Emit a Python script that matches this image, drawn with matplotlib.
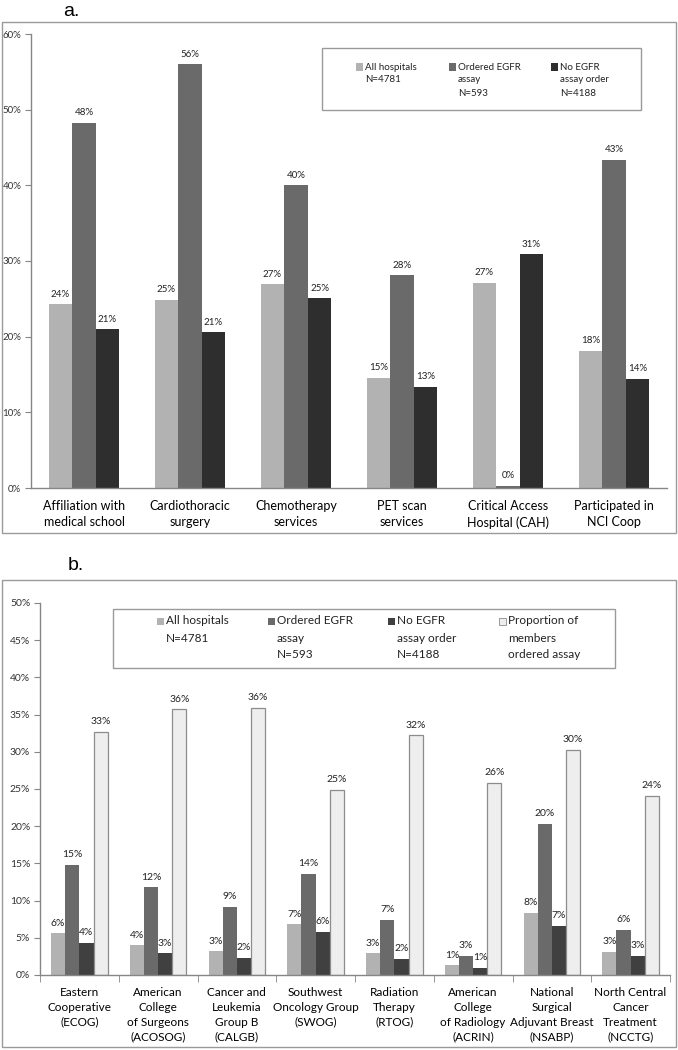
import matplotlib.pyplot as plt
import numpy as np
from matplotlib.patches import Rectangle
from matplotlib.ticker import FixedLocator, PercentFormatter

# panel a data
cats_a = ["Affiliation with\nmedical school", "Cardiothoracic\nsurgery",
          "Chemotherapy\nservices", "PET scan\nservices",
          "Critical Access\nHospital (CAH)", "Participated in\nNCI Coop"]
all_a = [24.3, 24.9, 26.9, 14.6, 27.1, 18.1]
ordered_a = [48.3, 56.0, 40.0, 28.1, 0.3, 43.4]
noorder_a = [21.0, 20.6, 25.1, 13.4, 30.9, 14.4]
series_a = ["All hospitals\nN=4781", "Ordered EGFR\nassay\nN=593",
            "No EGFR\nassay order\nN=4188"]

# panel b data
cats_b = ["Eastern\nCooperative\n(ECOG)", "American\nCollege\nof Surgeons\n(ACOSOG)",
          "Cancer and\nLeukemia\nGroup B\n(CALGB)", "Southwest\nOncology Group\n(SWOG)",
          "Radiation\nTherapy\n(RTOG)", "American\nCollege\nof Radiology\n(ACRIN)",
          "National\nSurgical\nAdjuvant Breast\n(NSABP)", "North Central\nCancer\nTreatment\n(NCCTG)"]
all_b = [5.6, 4.0, 3.2, 6.8, 2.9, 1.3, 8.4, 3.1]
ordered_b = [14.85, 11.8, 9.2, 13.6, 7.4, 2.6, 20.3, 6.1]
noorder_b = [4.3, 2.9, 2.3, 5.8, 2.2, 1.0, 6.6, 2.6]
members_b = [32.7, 35.7, 35.9, 24.9, 32.2, 25.8, 30.3, 24.1]
series_b = ["All hospitals\nN=4781", "Ordered EGFR\nassay\nN=593",
            "No EGFR\nassay order\nN=4188", "Proportion of\nmembers\nordered assay"]

FONT = "Lato"
GRAY = "#868686"
W, H = 678, 1050


def fx(px):
    return px / W


def fy(py):
    return 1 - py / H


def frame(fig, x0, y0, x1, y1):
    fig.patches.append(Rectangle((fx(x0), fy(y1)), fx(x1 - x0), (y1 - y0) / H,
                                 transform=fig.transFigure, fill=False,
                                 edgecolor="#9a9a9a", lw=1.0))


def legend_box(fig, box, xs, line_y, labels, colors, edges, fs, step):
    frame(fig, *box)
    for x, lab, c, e in zip(xs, labels, colors, edges):
        fig.patches.append(Rectangle((fx(x - 3.5), fy(line_y + 3.5)), fx(7), 7 / H,
                                     transform=fig.transFigure, facecolor=c,
                                     edgecolor=e, lw=0.6))
        for k, line in enumerate(lab.split("\n")):
            fig.text(fx(x + 6), fy(line_y + k * step), line, family=FONT,
                     fontsize=fs, va="center", ha="left", color="#222222")


def style_axes(ax, ymax, step, fs):
    for s in ["top", "right"]:
        ax.spines[s].set_visible(False)
    for s in ["left", "bottom"]:
        ax.spines[s].set_color(GRAY)
        ax.spines[s].set_linewidth(1.0)
    ax.set_ylim(0, ymax)
    ax.yaxis.set_major_locator(FixedLocator(np.arange(0, ymax + 0.1, step)))
    ax.yaxis.set_major_formatter(PercentFormatter(decimals=0))
    ax.tick_params(axis="y", length=4, color=GRAY, labelsize=fs, pad=3,
                   labelcolor="#333333")
    for t in ax.get_yticklabels():
        t.set_family(FONT)


def bars(ax, data, colors, edges, width, fs):
    n = len(data)
    x = np.arange(len(data[0]))
    for i, (vals, c, e) in enumerate(zip(data, colors, edges)):
        pos = x + (i - (n - 1) / 2) * width
        ax.bar(pos, vals, width=width, color=c, edgecolor=e,
               lw=0.9 if e != "none" else 0)
        for p, v in zip(pos, vals):
            ax.annotate(f"{round(v)}%", (p, v), xytext=(0, 4),
                        textcoords="offset points", ha="center", va="bottom",
                        family=FONT, fontsize=fs, color="#222222")


fig = plt.figure(figsize=(W / 100, H / 100), dpi=100)

# ---- panel a ----
fig.text(fx(63), fy(12), "a.", family="Liberation Sans", fontsize=14,
         va="center", ha="left")
frame(fig, 2, 22, 676, 533)
ax1 = fig.add_axes([fx(31), fy(488), fx(667 - 31), (488 - 34) / H])
bars(ax1, [all_a, ordered_a, noorder_a], ["#b2b2b2", "#6a6a6a", "#2e2e2e"],
     ["none"] * 3, 0.222, 7)
style_axes(ax1, 60, 10, 7)
ax1.set_xlim(-0.5, len(cats_a) - 0.5)
ax1.set_xticks(np.arange(len(cats_a)))
ax1.set_xticklabels(cats_a, family=FONT, fontsize=9, linespacing=1.35)
ax1.tick_params(axis="x", length=0, pad=9)
legend_box(fig, (322, 48, 641, 110), [359, 452, 554], 67, series_a,
           ["#b2b2b2", "#6a6a6a", "#2e2e2e"], ["none"] * 3, 7, 13)

# ---- panel b ----
fig.text(fx(68), fy(565), "b.", family="Liberation Sans", fontsize=14,
         va="center", ha="left")
frame(fig, 2, 580, 676, 1047)
ax2 = fig.add_axes([fx(40), fy(975), fx(670 - 40), (975 - 603) / H])
bars(ax2, [all_b, ordered_b, noorder_b, members_b],
     ["#b2b2b2", "#6a6a6a", "#404040", "#eeeeee"],
     ["none", "none", "none", "#8c8c8c"], 0.18, 7.5)
style_axes(ax2, 50, 5, 7.5)
ax2.set_xlim(-0.5, len(cats_b) - 0.5)
ax2.set_xticks(np.arange(len(cats_b)))
ax2.set_xticklabels(cats_b, family=FONT, fontsize=8.5, linespacing=1.4, va="top")
ax2.tick_params(axis="x", length=0, pad=9)
ax2.set_xticks(np.arange(len(cats_b) + 1) - 0.5, minor=True)
ax2.tick_params(axis="x", which="minor", length=5, color=GRAY)
legend_box(fig, (113, 609, 615, 668), [160, 271, 391, 502], 621, series_b,
           ["#b2b2b2", "#6a6a6a", "#404040", "#eeeeee"],
           ["none", "none", "none", "#8c8c8c"], 8.5, 17)

fig.savefig("out.png", dpi=100)
